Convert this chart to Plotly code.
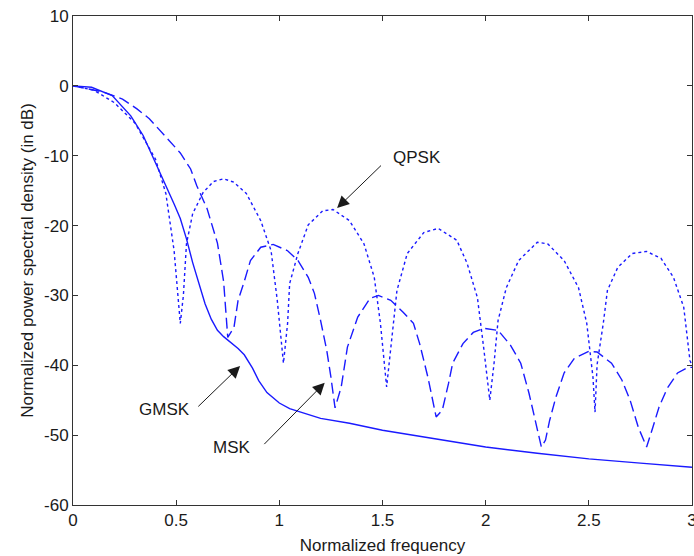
import plotly.graph_objects as go

# Normalized frequency (f*Tb) and normalized PSD (dB) for each modulation
qpsk_f = [0.0, 0.1, 0.2, 0.3, 0.4, 0.45, 0.49, 0.52, 0.535, 0.55, 0.58, 0.63, 0.68, 0.73,
          0.78, 0.84, 0.91, 0.96, 0.99, 1.02, 1.04, 1.05, 1.09, 1.14, 1.21, 1.26, 1.34,
          1.41, 1.46, 1.49, 1.52, 1.54, 1.57, 1.62, 1.70, 1.77, 1.86, 1.91, 1.96, 1.99,
          2.02, 2.04, 2.06, 2.10, 2.16, 2.25, 2.30, 2.38, 2.45, 2.49, 2.52, 2.53, 2.54,
          2.57, 2.59, 2.64, 2.71, 2.78, 2.85, 2.91, 2.96, 2.99, 3.0]
qpsk_db = [0.0, -0.6, -2.4, -5.3, -10.5, -15.4, -23.6, -34.0, -30.0, -22.6, -18.3, -15.3,
           -13.7, -13.3, -13.8, -15.4, -19.3, -23.6, -30.7, -39.7, -34.0, -28.3, -24.0,
           -19.9, -17.9, -17.7, -19.3, -22.6, -27.4, -34.0, -43.1, -37.9, -29.3, -24.0,
           -21.0, -20.4, -22.1, -25.4, -30.3, -37.4, -45.0, -39.9, -33.6, -28.9, -25.0,
           -22.4, -22.6, -25.0, -28.9, -34.0, -41.7, -46.7, -39.9, -34.0, -29.3, -26.0,
           -24.0, -23.7, -24.7, -27.4, -31.7, -39.3, -40.0]

msk_f = [0.0, 0.15, 0.24, 0.31, 0.37, 0.45, 0.52, 0.57, 0.60, 0.65, 0.70, 0.73, 0.75, 0.78,
         0.80, 0.83, 0.86, 0.91, 0.97, 1.04, 1.09, 1.14, 1.17, 1.20, 1.23, 1.25, 1.27, 1.30,
         1.33, 1.38, 1.44, 1.48, 1.54, 1.60, 1.65, 1.68, 1.72, 1.76, 1.79, 1.82, 1.84, 1.89,
         1.94, 1.99, 2.06, 2.12, 2.17, 2.21, 2.25, 2.27, 2.29, 2.31, 2.34, 2.38, 2.43, 2.50,
         2.54, 2.61, 2.66, 2.70, 2.74, 2.78, 2.81, 2.84, 2.88, 2.93, 2.98, 3.0]
msk_db = [0.0, -0.9, -1.9, -3.3, -4.7, -7.3, -9.6, -11.9, -14.3, -17.6, -22.5, -28.0, -36.0,
          -34.6, -30.7, -28.0, -25.0, -23.1, -22.7, -23.6, -25.0, -27.4, -29.7, -33.6, -37.9,
          -41.7, -46.1, -43.1, -37.4, -33.1, -30.4, -30.0, -30.7, -32.4, -34.0, -36.9, -41.7,
          -47.4, -46.4, -42.6, -39.7, -36.9, -35.3, -34.7, -35.0, -37.1, -39.7, -44.0, -48.9,
          -51.7, -50.7, -47.9, -44.6, -41.1, -39.0, -38.0, -38.1, -39.7, -42.1, -45.0, -48.9,
          -51.7, -48.9, -46.0, -43.3, -41.1, -40.3, -40.3]

gmsk_f = [0.0, 0.09, 0.19, 0.28, 0.34, 0.39, 0.45, 0.49, 0.52, 0.55, 0.58, 0.61, 0.64, 0.67,
          0.70, 0.73, 0.76, 0.80, 0.83, 0.87, 0.90, 0.94, 1.0, 1.05, 1.2, 1.34, 1.5, 1.75,
          2.0, 2.25, 2.5, 2.75, 3.0]
gmsk_db = [0.0, -0.2, -1.4, -4.3, -7.1, -10.3, -14.3, -16.9, -19.0, -21.9, -25.3, -28.4,
           -31.2, -33.4, -35.0, -35.9, -36.6, -37.6, -38.5, -40.4, -42.2, -43.9, -45.4,
           -46.2, -47.6, -48.3, -49.3, -50.5, -51.7, -52.6, -53.4, -54.0, -54.6]

x_ticks = [0, 0.5, 1, 1.5, 2, 2.5, 3]
x_tick_text = ["0", "0.5", "1", "1.5", "2", "2.5", "3"]
y_ticks = [10, 0, -10, -20, -30, -40, -50, -60]
y_tick_text = ["10", "0", "-10", "-20", "-30", "-40", "-50", "-60"]

BLUE = "#1a1aff"
INK = "#1a1a1a"
FONT = "Liberation Sans, Arial, sans-serif"

fig = go.Figure()
fig.add_trace(go.Scatter(x=qpsk_f, y=qpsk_db, mode="lines", name="QPSK",
                         line=dict(color=BLUE, width=1.4, dash="3px,3px")))
fig.add_trace(go.Scatter(x=msk_f, y=msk_db, mode="lines", name="MSK",
                         line=dict(color=BLUE, width=1.4, dash="11px,5px")))
fig.add_trace(go.Scatter(x=gmsk_f, y=gmsk_db, mode="lines", name="GMSK",
                         line=dict(color=BLUE, width=1.4)))

# Labels with arrows pointing at each curve
labels = [
    # text, text x, text y, anchor, arrow tail (x, y), arrow head (x, y)
    ("QPSK", 1.54, -10.3, "left", (1.50, -11.2), (1.28, -17.5)),
    ("GMSK", 0.575, -46.4, "right", (0.60, -46.1), (0.81, -40.1)),
    ("MSK", 0.87, -51.8, "right", (0.92, -51.5), (1.22, -42.5)),
]
for txt, tx, ty, anchor, tail, head in labels:
    fig.add_annotation(x=tx, y=ty, text=txt, showarrow=False, xanchor=anchor,
                       yanchor="middle", font=dict(family=FONT, size=17, color=INK))
    fig.add_annotation(x=head[0], y=head[1], ax=tail[0], ay=tail[1], axref="x", ayref="y",
                       text="", showarrow=True, arrowhead=2, arrowsize=2.4,
                       arrowwidth=1, arrowcolor=INK)

axis_common = dict(
    showline=True, linecolor="#333333", linewidth=1, mirror="ticks",
    ticks="inside", ticklen=5, tickcolor="#333333", showgrid=False, zeroline=False,
    tickfont=dict(family=FONT, size=17, color=INK), ticklabeloverflow="allow",
)
fig.update_xaxes(range=[0, 3], tickvals=x_ticks, ticktext=x_tick_text,
                 title=dict(text="Normalized frequency", standoff=9,
                            font=dict(family=FONT, size=17, color=INK)),
                 **axis_common)
fig.update_yaxes(range=[-60, 10], tickvals=y_ticks, ticktext=y_tick_text,
                 title=dict(text="Normalized power spectral density (in dB)", standoff=6,
                            font=dict(family=FONT, size=17, color=INK)),
                 **axis_common)

fig.update_layout(
    width=694, height=556,
    margin=dict(l=73, r=2, t=16, b=51, autoexpand=False),
    paper_bgcolor="white", plot_bgcolor="white",
    showlegend=False,
)

fig.write_html("out.html")
